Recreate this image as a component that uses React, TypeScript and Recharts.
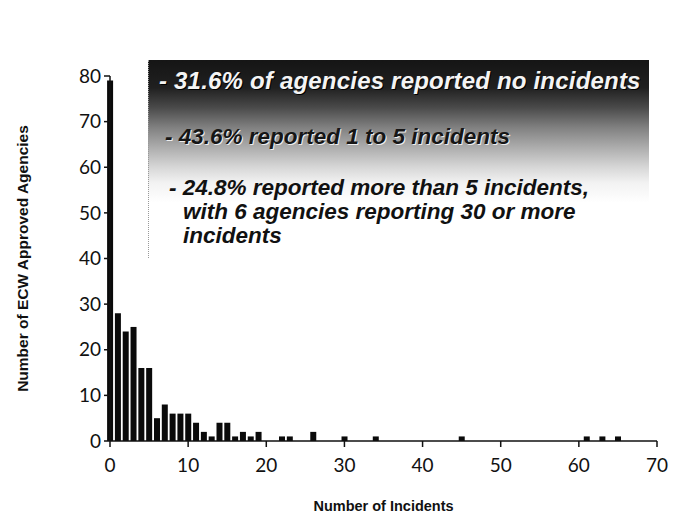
import { BarChart, Bar, XAxis, YAxis } from 'recharts';

const incidentCounts = [0, 1, 2, 3, 4, 5, 6, 7, 8, 9, 10, 11, 12, 13, 14, 15, 16, 17, 18, 19, 22, 23, 26, 30, 34, 45, 61, 63, 65];
const agencyCounts = [79, 28, 24, 25, 16, 16, 5, 8, 6, 6, 6, 4, 2, 1, 4, 4, 1, 2, 1, 2, 1, 1, 2, 1, 1, 1, 1, 1, 1];
const xTicks = [0, 10, 20, 30, 40, 50, 60, 70];
const yTicks = [0, 10, 20, 30, 40, 50, 60, 70, 80];
const notes = [
  '- 31.6% of agencies reported no incidents',
  '- 43.6% reported 1 to 5 incidents',
  '- 24.8% reported more than 5 incidents,',
  'with 6 agencies reporting 30 or more',
  'incidents',
];

const data = incidentCounts.map((n, i) => ({ incidents: n, agencies: agencyCounts[i] }));

const tickFont = { fontFamily: 'Lato, "Open Sans", sans-serif', fontSize: 19, fill: '#111' };
const titleFont = { fontFamily: '"Liberation Sans", Arial, sans-serif', fontSize: 14.5, fontWeight: 700, fill: '#111' };

const noteFont = {
  fontFamily: '"Liberation Sans", Arial, sans-serif',
  fontWeight: 700,
  fontStyle: 'italic' as const,
  fontSize: 22.5,
  lineHeight: '24px',
  position: 'absolute' as const,
  whiteSpace: 'nowrap' as const,
};

const YTitle = (props: any) => {
  const { viewBox } = props;
  const x = viewBox.x + 22;
  const y = viewBox.y + viewBox.height / 2;
  return (
    <text
      x={x}
      y={y}
      transform={`rotate(-90 ${x} ${y})`}
      textAnchor="middle"
      dominantBaseline="central"
      style={{ ...titleFont, fontSize: 15.5 }}
    >
      Number of ECW Approved Agencies
    </text>
  );
};

export default function App() {
  return (
    <div style={{ position: 'absolute', left: 0, top: 0, width: 689, height: 518, background: '#fff' }}>
      <BarChart
        width={689}
        height={518}
        data={data}
        margin={{ top: 76, right: 32, bottom: 2, left: 0 }}
        barCategoryGap={0}
      >
        <XAxis
          type="number"
          dataKey="incidents"
          domain={[0, 70]}
          ticks={xTicks}
          height={75}
          tickSize={6}
          tickMargin={12}
          stroke="#111"
          strokeWidth={1.5}
          tick={tickFont}
          label={{ value: 'Number of Incidents', position: 'insideBottom', offset: 5, style: titleFont }}
        />
        <YAxis
          type="number"
          domain={[0, 80]}
          ticks={yTicks}
          width={110}
          tickSize={6}
          tickMargin={3}
          stroke="#111"
          strokeWidth={1.5}
          tick={tickFont}
          label={<YTitle />}
        />
        <Bar dataKey="agencies" fill="#0a0a0a" barSize={6} isAnimationActive={false} />
      </BarChart>

      <div
        style={{
          position: 'absolute',
          left: 148,
          top: 60,
          width: 500,
          height: 198,
          background:
            'linear-gradient(to bottom, #151515 0%, #202020 14%, #4a4a4a 24%, #808080 34%, #acacac 44%, #d6d6d6 54%, #f2f2f2 62%, #ffffff 72%)',
          borderLeft: '1px dotted #999',
        }}
      >
        <div
          style={{
            ...noteFont,
            left: 10,
            top: 9,
            fontSize: 24,
            letterSpacing: 0.2,
            color: '#f4f4f4',
            textShadow: '1px 1px 0 #000, -1px 0 0 #222',
          }}
        >
          {notes[0]}
        </div>
        <div style={{ ...noteFont, left: 16, top: 65, color: '#161616', textShadow: '1px 1px 0 #eee' }}>{notes[1]}</div>
        <div style={{ ...noteFont, left: 20, top: 116, color: '#111' }}>{notes[2]}</div>
        <div style={{ ...noteFont, left: 34, top: 140, color: '#111' }}>{notes[3]}</div>
        <div style={{ ...noteFont, left: 34, top: 164, color: '#111' }}>{notes[4]}</div>
      </div>
    </div>
  );
}
